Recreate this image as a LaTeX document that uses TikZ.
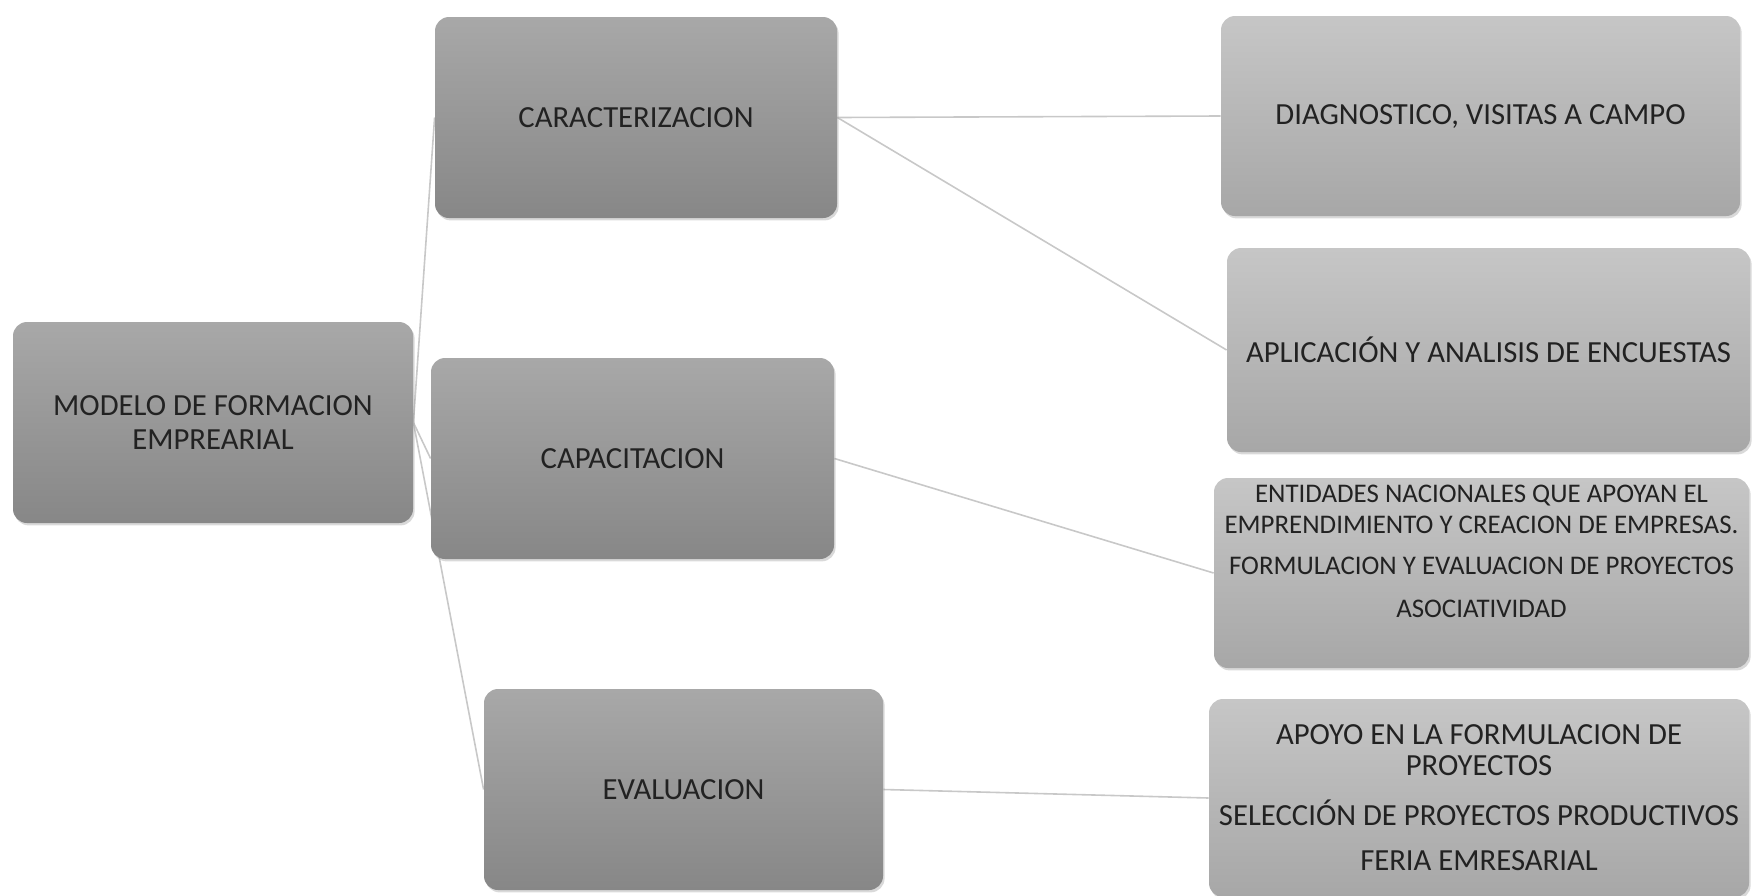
\documentclass[tikz,border=0pt]{standalone}
\usepackage{fontspec}
\setmainfont{Carlito}
\usetikzlibrary{shadows,backgrounds}
\definecolor{topdark}{HTML}{A8A8A8}
\definecolor{botdark}{HTML}{878787}
\definecolor{toplight}{HTML}{C6C6C6}
\definecolor{botlight}{HTML}{A7A7A7}
\definecolor{linkgray}{HTML}{C8C8C8}
\definecolor{inkgray}{HTML}{222222}

\begin{document}
\begin{tikzpicture}[x=0.5pt,y=-0.5pt,
  box/.style={rectangle, rounded corners=7pt, align=center, text=inkgray, inner sep=2pt,
    drop shadow={opacity=0.3, shadow xshift=0.8pt, shadow yshift=-1.2pt}},
  darkbox/.style={box, top color=topdark, bottom color=botdark, font=\fontsize{15.35}{17}\selectfont},
  lightbox/.style={box, top color=toplight, bottom color=botlight, font=\fontsize{15.35}{17}\selectfont},
  smallbox/.style={box, top color=toplight, bottom color=botlight, font=\fontsize{13.45}{15.5}\selectfont},
  link/.style={draw=linkgray, line width=0.8pt}]
\useasboundingbox (0,0) rectangle (1752,895);

% left column
\node[darkbox, minimum width=200pt, minimum height=100.5pt] (root) at (213,422.5) {MODELO DE FORMACION\\EMPREARIAL};
\node[darkbox, minimum width=201pt, minimum height=100.5pt] (cara) at (636,117.5) {CARACTERIZACION};
\node[darkbox, minimum width=201.5pt, minimum height=100.5pt] (capa) at (632.5,458.5) {CAPACITACION};
\node[darkbox, minimum width=199.5pt, minimum height=100.5pt] (eval) at (683.5,789.5) {EVALUACION};

% right column
\node[lightbox, minimum width=259.5pt, minimum height=100pt] (diag) at (1480.5,116) {DIAGNOSTICO, VISITAS A CAMPO};
\node[lightbox, minimum width=261.5pt, minimum height=102pt] (apli) at (1488.5,350) {APLICACIÓN Y ANALISIS DE ENCUESTAS};
\node[smallbox, inner sep=0pt, minimum width=267.5pt, minimum height=95pt] (enti) at (1481.5,573)
  {\parbox[c][95pt][c]{267.5pt}{\centering
   ENTIDADES NACIONALES QUE APOYAN EL\\
   EMPRENDIMIENTO Y CREACION DE EMPRESAS.\\[5pt]
   FORMULACION Y EVALUACION DE PROYECTOS\\[6pt]
   ASOCIATIVIDAD\par\vspace{22pt}}};
\node[lightbox, font=\fontsize{15.35}{15.5}\selectfont, minimum width=270pt, minimum height=99pt] (apoyo) at (1479,798)
  {APOYO EN LA FORMULACION DE\\PROYECTOS\\[9.5pt]
   SELECCIÓN DE PROYECTOS PRODUCTIVOS\\[7pt]
   FERIA EMRESARIAL};

% connectors
\begin{scope}[on background layer]
\draw[link] (root.east) -- (cara.west);
\draw[link] (root.east) -- (capa.west);
\draw[link] (root.east) -- (eval.west);
\draw[link] (cara.east) -- (diag.west);
\draw[link] (cara.east) -- (apli.west);
\draw[link] (capa.east) -- (enti.west);
\draw[link] (eval.east) -- (apoyo.west);
\end{scope}
\end{tikzpicture}
\end{document}
